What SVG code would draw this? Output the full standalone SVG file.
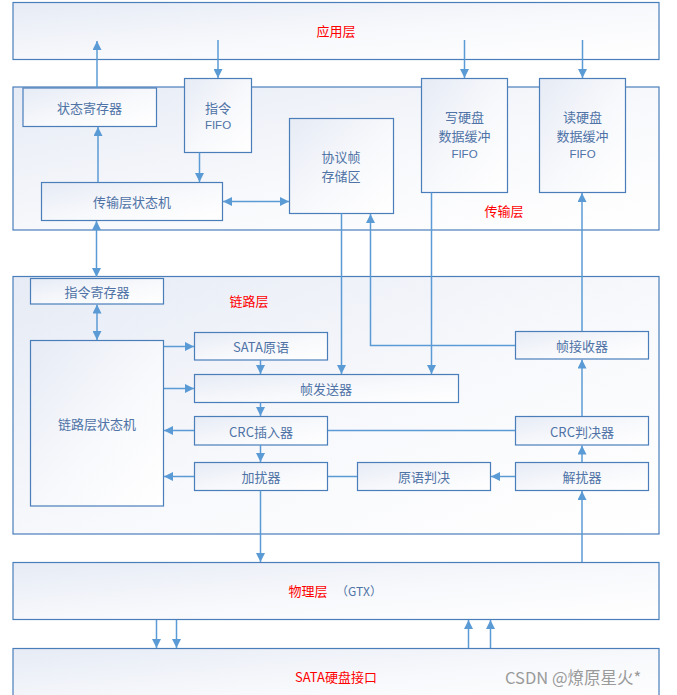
<svg xmlns="http://www.w3.org/2000/svg" width="677" height="695" viewBox="0 0 677 695">
<defs>
<linearGradient id="g" x1="0" y1="0" x2="1" y2="1">
<stop offset="0" stop-color="#e6ebf5"/>
<stop offset="0.55" stop-color="#f8f9fc"/>
<stop offset="1" stop-color="#ffffff"/>
</linearGradient>
<marker id="ah" viewBox="0 0 10 10" refX="10" refY="5" markerWidth="9" markerHeight="9" markerUnits="userSpaceOnUse" orient="auto-start-reverse">
<path d="M0,0 L10,5 L0,10 Z" fill="#5b9bd5"/>
</marker>
<style>
.layer{fill:url(#g);stroke:#4a7ebb;stroke-width:1.2}
.box{fill:url(#g);stroke:#4a7ebb;stroke-width:1.2}
.t{font-family:"Noto Sans CJK SC","Liberation Sans",sans-serif;font-size:13px;fill:#4f73a6;text-anchor:middle;dominant-baseline:central}
.f{font-family:"Liberation Sans","Noto Sans CJK SC",sans-serif;font-size:11.5px;fill:#4f73a6;text-anchor:middle;dominant-baseline:central}
.r{font-family:"Noto Sans CJK SC","Liberation Sans",sans-serif;font-size:13px;fill:#ff0000;text-anchor:middle;dominant-baseline:central}
.c line,.c polyline{stroke:#5b9bd5;stroke-width:1.5;fill:none}
.a{marker-end:url(#ah)}
.d{marker-start:url(#ah);marker-end:url(#ah)}
</style>
</defs>
<rect width="677" height="695" fill="#ffffff"/>

<g id="app-layer">
<rect class="layer" x="13" y="2.5" width="646" height="57"/>
<text class="r" x="336" y="30">应用层</text>
</g>
<g id="transport-layer">
<rect class="layer" x="13" y="87" width="646" height="143"/>
<text class="r" x="504" y="210">传输层</text>
</g>
<g id="link-layer">
<rect class="layer" x="13" y="276.5" width="646" height="257.5"/>
<text class="r" x="249" y="300">链路层</text>
</g>
<g id="phy-layer">
<rect class="layer" x="13" y="562.5" width="646" height="57"/>
<text class="r" x="308" y="590">物理层</text>
<text class="t" x="359" y="590" style="font-size:12px">（GTX）</text>
</g>
<g id="sata-layer">
<rect class="layer" x="13" y="648.5" width="646" height="60"/>
<text class="r" x="336" y="676">SATA硬盘接口</text>
</g>

<g id="status-reg">
<rect class="box" x="23" y="88" width="133.5" height="38.5"/>
<text class="t" x="89.5" y="107">状态寄存器</text>
</g>
<g id="cmd-fifo">
<rect class="box" x="184.5" y="78.5" width="67" height="74"/>
<text class="t" x="218" y="107">指令</text>
<text class="f" x="218" y="124.5">FIFO</text>
</g>
<g id="proto-frame-store">
<rect class="box" x="289.5" y="118.5" width="104" height="95"/>
<text class="t" x="341" y="156">协议帧</text>
<text class="t" x="341" y="175">存储区</text>
</g>
<g id="write-fifo">
<rect class="box" x="421.5" y="78.5" width="86" height="114"/>
<text class="t" x="464.5" y="116.5">写硬盘</text>
<text class="t" x="464.5" y="135">数据缓冲</text>
<text class="f" x="464.5" y="153.5">FIFO</text>
</g>
<g id="read-fifo">
<rect class="box" x="539.5" y="78.5" width="86" height="114"/>
<text class="t" x="582.5" y="116.5">读硬盘</text>
<text class="t" x="582.5" y="135">数据缓冲</text>
<text class="f" x="582.5" y="153.5">FIFO</text>
</g>
<g id="transport-fsm">
<rect class="box" x="41.5" y="182.5" width="181" height="38"/>
<text class="t" x="132" y="201">传输层状态机</text>
</g>

<g id="cmd-reg">
<rect class="box" x="30.5" y="278.5" width="133" height="25.5"/>
<text class="t" x="97" y="291">指令寄存器</text>
</g>
<g id="link-fsm">
<rect class="box" x="30.5" y="340.5" width="133" height="165.5"/>
<text class="t" x="97" y="423">链路层状态机</text>
</g>
<g id="sata-prim">
<rect class="box" x="194.5" y="332.5" width="133" height="27.5"/>
<text class="t" x="261" y="346">SATA原语</text>
</g>
<g id="frame-tx">
<rect class="box" x="194.5" y="374.5" width="264" height="28"/>
<text class="t" x="326" y="388.5">帧发送器</text>
</g>
<g id="crc-ins">
<rect class="box" x="194.5" y="416.5" width="133" height="28.5"/>
<text class="t" x="261" y="431">CRC插入器</text>
</g>
<g id="scrambler">
<rect class="box" x="194.5" y="462.5" width="133" height="28"/>
<text class="t" x="261" y="476.5">加扰器</text>
</g>
<g id="frame-rx">
<rect class="box" x="515.5" y="331.5" width="133" height="27.5"/>
<text class="t" x="582" y="345">帧接收器</text>
</g>
<g id="crc-chk">
<rect class="box" x="515.5" y="416.5" width="133" height="28.5"/>
<text class="t" x="582" y="431">CRC判决器</text>
</g>
<g id="descrambler">
<rect class="box" x="515.5" y="462.5" width="133" height="28"/>
<text class="t" x="582" y="476.5">解扰器</text>
</g>
<g id="prim-judge">
<rect class="box" x="357.5" y="462.5" width="133" height="28"/>
<text class="t" x="424" y="476.5">原语判决</text>
</g>

<g id="connectors" class="c">
<line class="a" x1="97" y1="88" x2="97" y2="41"/>
<line class="a" x1="218" y1="40" x2="218" y2="78"/>
<line class="a" x1="464.5" y1="40" x2="464.5" y2="78"/>
<line class="a" x1="582.5" y1="40" x2="582.5" y2="78"/>
<line class="a" x1="98" y1="182" x2="98" y2="127"/>
<line class="a" x1="199.5" y1="152.5" x2="199.5" y2="182"/>
<line class="d" x1="223" y1="201.5" x2="289" y2="201.5"/>
<line class="d" x1="96.5" y1="221" x2="96.5" y2="277"/>
<line class="d" x1="97" y1="304.5" x2="97" y2="340"/>
<line class="a" x1="164" y1="346.5" x2="194" y2="346.5"/>
<line class="a" x1="164" y1="388.5" x2="194" y2="388.5"/>
<line class="a" x1="260.5" y1="360" x2="260.5" y2="374"/>
<line class="a" x1="260.5" y1="402.5" x2="260.5" y2="416"/>
<line class="a" x1="194" y1="430.5" x2="164" y2="430.5"/>
<line class="a" x1="260.5" y1="445" x2="260.5" y2="462"/>
<line class="a" x1="194" y1="476.5" x2="164" y2="476.5"/>
<line class="a" x1="260.5" y1="490.5" x2="260.5" y2="562"/>
<line class="a" x1="341.5" y1="213.5" x2="341.5" y2="374"/>
<line class="a" x1="431.5" y1="192.5" x2="431.5" y2="374"/>
<polyline class="a" points="515,345.5 370.5,345.5 370.5,214"/>
<line class="a" x1="582" y1="331" x2="582" y2="193"/>
<line class="a" x1="582" y1="416" x2="582" y2="359.5"/>
<line x1="328" y1="430.5" x2="515" y2="430.5"/>
<line x1="328" y1="476.5" x2="357" y2="476.5"/>
<line class="a" x1="515" y1="476.5" x2="491" y2="476.5"/>
<line class="a" x1="582" y1="462" x2="582" y2="445.5"/>
<line class="a" x1="582" y1="562" x2="582" y2="491"/>
<line class="a" x1="156.5" y1="620" x2="156.5" y2="648"/>
<line class="a" x1="176.5" y1="620" x2="176.5" y2="648"/>
<line class="a" x1="468.5" y1="648" x2="468.5" y2="620"/>
<line class="a" x1="490.5" y1="648" x2="490.5" y2="620"/>
</g>

<text x="505" y="684" style="font-family:'Noto Sans CJK SC','Liberation Sans',sans-serif;font-size:16.5px;fill:#8a8a8a;opacity:0.85">CSDN @燎原星火*</text>
</svg>
